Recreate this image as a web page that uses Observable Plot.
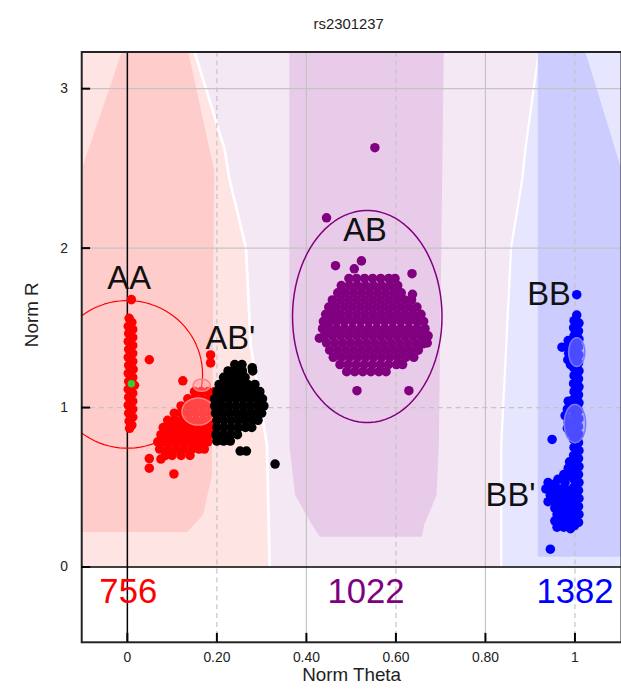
<!DOCTYPE html>
<html><head><meta charset="utf-8">
<script src="https://cdn.jsdelivr.net/npm/d3@7"></script>
<script src="https://cdn.jsdelivr.net/npm/@observablehq/plot@0.6"></script>
<style>body{margin:0;background:#fff}#c{width:621px;height:698px;overflow:hidden}</style>
</head><body><div id="c"></div>
<script>
// ---------- data ----------
const title = "rs2301237";
const xLabel = "Norm Theta";
const yLabel = "Norm R";
const xTicks = [0, 0.2, 0.4, 0.6, 0.8, 1];
const xTickLabels = ["0", "0.20", "0.40", "0.60", "0.80", "1"];
const yTicks = [0, 1, 2, 3];
const yTickLabels = ["0", "1", "2", "3"];
const xGridSolid = [0.4, 0.8];
const xGridDashed = [0.2, 0.6, 1.0];
const yGridSolid = [2, 3];
const yGridDashed = [1];
const xDomain = [-0.102, 1.104];
const yDomain = [-0.472, 3.23];

// genotype call regions (boundaries in theta / R)
const bandY  = [0, 0.76, 1.38, 2.0, 2.43, 2.62, 3.23];
const aaEdge = [0.316, 0.310, 0.274, 0.263, 0.226, 0.215, 0.148];
const bbEdge = [0.834, 0.834, 0.845, 0.856, 0.881, 0.888, 0.918];
const aaCoreY  = [0.217, 0.323, 0.571, 1.379, 2.435, 2.484, 3.23];
const aaCoreX1 = [-0.102, -0.102, -0.102, -0.102, -0.102, -0.102, -0.011];
const aaCoreX2 = [0.135, 0.170, 0.190, 0.192, 0.195, 0.195, 0.137];
const abCoreY  = [0.186, 0.26, 0.447, 0.758, 3.23];
const abCoreX1 = [0.431, 0.414, 0.376, 0.363, 0.363];
const abCoreX2 = [0.659, 0.664, 0.692, 0.697, 0.708];
const bbCoreY  = [0.062, 2.5, 3.23];
const bbCoreX1 = [0.918, 0.918, 0.918];
const bbCoreX2 = [1.104, 1.104, 1.024];

// cluster ellipses: [cx, cy, rx, ry]
const ellAA = [0.0, 1.208, 0.168, 0.463];
const ellAB = [0.536, 1.571, 0.167, 0.665];
const ellABp = [[0.166, 1.14, 0.019, 0.038], [0.158, 0.975, 0.036, 0.085]];
const ellBBp = [[1.004, 1.348, 0.018, 0.09], [1.0, 0.90, 0.024, 0.12]];

// labels
const clusterNames = ["AA", "AB'", "AB", "BB", "BB'"];
const clusterX = [0.004, 0.23, 0.531, 0.942, 0.856];
const clusterY = [1.81, 1.43, 2.11, 1.71, 0.447];
const counts = ["756", "1022", "1382"];
const countX = [0.002, 0.533, 1.0];
const countY = [-0.155, -0.155, -0.155];

// samples (theta, R)
const aaPts = [[0.004,1.56],[0.01,1.535],[0.002,1.51],[0.012,1.49],[0.003,1.465],[0.012,1.44],[0.002,1.415],[0.012,1.39],[0.003,1.365],[0.012,1.34],[0.002,1.315],[0.012,1.29],[0.003,1.265],[0.013,1.24],[0.002,1.215],[0.012,1.19],[0.003,1.165],[0.016,1.14],[0.002,1.115],[0.012,1.09],[0.003,1.065],[0.012,1.04],[0.002,1.015],[0.012,0.99],[0.003,0.965],[0.012,0.94],[0.004,0.915],[0.01,0.89],[0.005,0.87],[0.009,1.677],[0.049,1.30],[0.124,1.168]];
const greenPt = [[0.009, 1.15]];
const abpRedRows = [
 [1.10,[0.15,0.165,0.18,0.195]],
 [1.055,[0.135,0.15,0.166,0.182,0.197]],
 [1.01,[0.12,0.136,0.152,0.168,0.184,0.198]],
 [0.965,[0.105,0.121,0.137,0.153,0.169,0.185,0.199]],
 [0.92,[0.09,0.106,0.122,0.138,0.154,0.17,0.186,0.198]],
 [0.875,[0.08,0.096,0.112,0.128,0.144,0.16,0.176,0.192]],
 [0.83,[0.075,0.091,0.107,0.123,0.139,0.155,0.171,0.187]],
 [0.785,[0.068,0.084,0.1,0.116,0.132,0.148,0.164,0.18]],
 [0.74,[0.072,0.09,0.108,0.126,0.144,0.16,0.172]],
 [0.70,[0.085,0.1,0.12,0.14]]
];
const abpRedExtra = [[0.049,0.68],[0.049,0.62],[0.075,0.677],[0.104,0.584],[0.186,1.33],[0.186,1.28]];
const abpBlackRows = [
 [1.27,[0.24,0.256]],
 [1.23,[0.225,0.241,0.257,0.28]],
 [1.19,[0.215,0.231,0.247,0.263]],
 [1.145,[0.205,0.221,0.237,0.253,0.269,0.285]],
 [1.10,[0.2,0.216,0.232,0.248,0.264,0.28,0.296]],
 [1.055,[0.195,0.211,0.227,0.243,0.259,0.275,0.291,0.302]],
 [1.01,[0.195,0.21,0.226,0.242,0.258,0.274,0.29,0.305]],
 [0.965,[0.197,0.213,0.229,0.245,0.261,0.277,0.293,0.3]],
 [0.92,[0.2,0.216,0.232,0.248,0.264,0.28,0.292]],
 [0.875,[0.2,0.216,0.232,0.248,0.264,0.278]],
 [0.83,[0.198,0.214,0.23,0.246]],
 [0.79,[0.2,0.215,0.23]]
];
const abpBlackExtra = [[0.252,0.727],[0.266,0.727],[0.33,0.646],[0.279,1.25]];
const abRows = [
 [1.81,[0.495,0.512,0.53,0.548,0.566,0.584,0.598]],
 [1.765,[0.478,0.496,0.514,0.532,0.55,0.568,0.586,0.604]],
 [1.72,[0.47,0.487,0.505,0.523,0.541,0.559,0.577,0.595,0.612]],
 [1.675,[0.458,0.476,0.494,0.512,0.53,0.548,0.566,0.584,0.602,0.62,0.635]],
 [1.63,[0.45,0.467,0.485,0.503,0.521,0.539,0.557,0.575,0.593,0.611,0.629,0.647]],
 [1.585,[0.443,0.459,0.476,0.494,0.512,0.53,0.548,0.566,0.584,0.602,0.62,0.638,0.656]],
 [1.54,[0.438,0.452,0.468,0.485,0.503,0.521,0.539,0.557,0.575,0.593,0.611,0.629,0.647,0.662]],
 [1.495,[0.436,0.45,0.467,0.485,0.503,0.521,0.539,0.557,0.575,0.593,0.611,0.629,0.647,0.665]],
 [1.45,[0.44,0.458,0.476,0.494,0.512,0.53,0.548,0.566,0.584,0.602,0.62,0.638,0.656,0.672]],
 [1.405,[0.445,0.463,0.481,0.499,0.517,0.535,0.553,0.571,0.589,0.607,0.625,0.643,0.661,0.67]],
 [1.36,[0.452,0.47,0.488,0.506,0.524,0.542,0.56,0.578,0.596,0.614,0.632,0.65]],
 [1.315,[0.46,0.478,0.496,0.514,0.532,0.55,0.568,0.586,0.604,0.622,0.64]],
 [1.27,[0.475,0.493,0.511,0.529,0.547,0.565,0.583,0.601,0.615]],
 [1.225,[0.49,0.508,0.526,0.544,0.562,0.578]]
];
const abExtra = [[0.553,2.63],[0.445,2.19],[0.465,1.89],[0.523,1.92],[0.507,1.87],[0.636,1.84],[0.637,1.71],[0.429,1.435],[0.513,1.106],[0.629,1.106],[0.653,1.547],[0.66,1.40]];
const bbPts = [[1.004,1.708],[1.004,1.58],[0.998,1.545],[1.009,1.53],[0.997,1.50],[1.008,1.48],[0.998,1.45],[1.009,1.43],[0.996,1.40],[1.008,1.38],[0.997,1.35],[1.009,1.33],[0.998,1.30],[1.008,1.28],[0.997,1.25],[1.009,1.23],[0.998,1.20],[1.008,1.18],[0.997,1.15],[1.009,1.13],[0.998,1.10],[1.008,1.08],[0.996,1.05],[1.009,1.03],[0.997,1.00],[1.008,0.98],[0.998,0.95],[1.009,0.93],[0.997,0.90],[1.008,0.88],[0.998,0.85],[1.009,0.83],[0.997,0.80],[1.008,0.78],[0.998,0.75],[1.009,0.73],[0.997,0.70],[1.008,0.68],[0.998,0.65],[1.009,0.63],[0.997,0.60],[1.008,0.58],[0.998,0.55],[1.009,0.53],[0.997,0.50],[1.008,0.48],[0.998,0.45],[1.009,0.43],[0.997,0.40],[1.008,0.38],[0.998,0.35],[1.009,0.33],[0.997,0.30],[1.008,0.28],[0.999,0.26],
 [0.985,1.42],[0.982,1.38],[0.971,1.379],[0.986,1.34],[0.984,1.30],[0.99,1.27],
 [0.985,1.04],[0.983,0.99],[0.978,0.95],[0.985,0.91],[0.983,0.87],[0.99,0.84],[0.949,0.80],
 [0.988,0.66],[0.985,0.62],[0.975,0.58],[0.99,0.57],[0.962,0.55],[0.978,0.53],[0.94,0.53],[0.955,0.52],[0.935,0.49],[0.95,0.49],[0.966,0.49],[0.982,0.48],[0.945,0.45],[0.96,0.45],[0.975,0.44],[0.99,0.44],[0.94,0.41],[0.955,0.41],[0.97,0.40],[0.985,0.40],[0.955,0.37],[0.97,0.36],[0.985,0.36],[0.96,0.33],[0.975,0.32],[0.99,0.32],[0.955,0.29],[0.97,0.29],[0.985,0.28],[0.96,0.25],[0.975,0.25],[0.99,0.24],[0.945,0.112]];

// ---------- build ----------
const rowsToPts = rows => rows.flatMap(([r, ts]) => ts.map(t => [t, r]));
const abpRed = rowsToPts(abpRedRows).concat(abpRedExtra);
const abpBlack = rowsToPts(abpBlackRows).concat(abpBlackExtra);
const abPts = rowsToPts(abRows).concat(abExtra);

const bands = bandY.map((y, i) => ({y, a: aaEdge[i], b: bbEdge[i]}));
const aaCore = aaCoreY.map((y, i) => ({y, x1: aaCoreX1[i], x2: aaCoreX2[i]}));
const abCore = abCoreY.map((y, i) => ({y, x1: abCoreX1[i], x2: abCoreX2[i]}));
const bbCore = bbCoreY.map((y, i) => ({y, x1: bbCoreX1[i], x2: bbCoreX2[i]}));
const ellipse = ([cx, cy, rx, ry]) => d3.range(0, 361, 4).map(a => [cx + rx * Math.cos(a * Math.PI / 180), cy + ry * Math.sin(a * Math.PI / 180)]);
const X = d => d[0], Y = d => d[1];
const R = 4.8;

const marginLeft = 82, marginTop = 52, marginBottom = 50, W = 627, H = 698;
const plotW = W - marginLeft, plotH = H - marginTop - marginBottom;

const chart = Plot.plot({
  width: W, height: H,
  marginLeft, marginRight: 0, marginTop, marginBottom,
  x: {domain: xDomain},
  y: {domain: yDomain},
  style: {fontFamily: "'Liberation Sans', Arial, sans-serif", background: "#fff", color: "#222"},
  marks: [
    // call regions
    Plot.areaX(bands, {y: "y", x1: () => xDomain[0], x2: "a", fill: "#ffe4e4"}),
    Plot.areaX(bands, {y: "y", x1: d => d.a + 0.006, x2: d => d.b, fill: "#f5e8f5"}),
    Plot.areaX(bands, {y: "y", x1: d => d.b + 0.005, x2: () => xDomain[1], fill: "#e6e6ff"}),
    Plot.areaX(aaCore, {y: "y", x1: "x1", x2: "x2", fill: "#ffcccc"}),
    Plot.areaX(abCore, {y: "y", x1: "x1", x2: "x2", fill: "#e8cbe8"}),
    Plot.areaX(bbCore, {y: "y", x1: "x1", x2: "x2", fill: "#ccccff"}),
    // grid
    Plot.ruleX(xGridSolid, {stroke: "#c4c4c4", strokeWidth: 1.2}),
    Plot.ruleX(xGridDashed, {stroke: "#c4c4c4", strokeWidth: 1.2, strokeDasharray: "5,4"}),
    Plot.ruleY(yGridSolid, {stroke: "#c4c4c4", strokeWidth: 1.2}),
    Plot.ruleY(yGridDashed, {stroke: "#c4c4c4", strokeWidth: 1.2, strokeDasharray: "5,4"}),
    Plot.ruleX([0], {stroke: "#000", strokeWidth: 1.5}),
    Plot.ruleY([0], {stroke: "#000", strokeWidth: 1.5}),
    // cluster ellipses
    Plot.line(ellipse(ellAA), {x: X, y: Y, stroke: "#ff0000", strokeWidth: 1.2, clip: true}),
    Plot.line(ellipse(ellAB), {x: X, y: Y, stroke: "#800080", strokeWidth: 1.5, clip: true}),
    // samples
    Plot.dot(aaPts, {x: X, y: Y, r: R, fill: "#ff0000"}),
    Plot.dot(abpRed, {x: X, y: Y, r: R, fill: "#ff0000"}),
    ...ellABp.map(e => Plot.line(ellipse(e), {x: X, y: Y, stroke: "#ff8080", strokeWidth: 1.5, fill: "rgba(255,150,150,0.45)"})),
    Plot.dot(abpBlack, {x: X, y: Y, r: R, fill: "#000"}),
    Plot.dot(abPts, {x: X, y: Y, r: R, fill: "#800080"}),
    Plot.dot(bbPts, {x: X, y: Y, r: R, fill: "#0000ff"}),
    ...ellBBp.map(e => Plot.line(ellipse(e), {x: X, y: Y, stroke: "#7a7aff", strokeWidth: 1.5, fill: "rgba(150,150,255,0.5)"})),
    Plot.dot(greenPt, {x: X, y: Y, r: 3.8, fill: "#33cc33"}),
    // labels
    Plot.text(clusterNames, {x: (d, i) => clusterX[i], y: (d, i) => clusterY[i], text: d => d, fontSize: 33, fill: "#111"}),
    Plot.text(counts, {x: (d, i) => countX[i], y: (d, i) => countY[i], text: d => d, fontSize: 35, fill: (d, i) => ["#ff0000", "#800080", "#0000ff"][i]}),
    // frame and ticks
    Plot.frame({stroke: "#222", strokeWidth: 2}),
    Plot.tickX(xTicks, {x: d => d, insetTop: plotH - 9, stroke: "#000", strokeWidth: 2}),
    Plot.tickY(yTicks, {y: d => d, insetRight: plotW - 9, stroke: "#000", strokeWidth: 2}),
    Plot.axisX({ticks: xTicks, tickFormat: d => xTickLabels[xTicks.indexOf(d)], tickSize: 0, tickPadding: 10, label: null, fontSize: 14}),
    Plot.axisY({ticks: yTicks, tickFormat: d => yTickLabels[yTicks.indexOf(d)], tickSize: 0, tickPadding: 14, label: null, fontSize: 14}),
    Plot.text([xLabel], {frameAnchor: "bottom", dy: 39, fontSize: 19, fill: "#222"}),
    Plot.text([yLabel], {frameAnchor: "left", dx: -50, rotate: -90, fontSize: 19, fill: "#222"}),
    Plot.text([title], {frameAnchor: "top", dx: -3, dy: -34, fontSize: 15, fill: "#222"})
  ]
});
document.getElementById("c").appendChild(chart);
</script></body></html>
